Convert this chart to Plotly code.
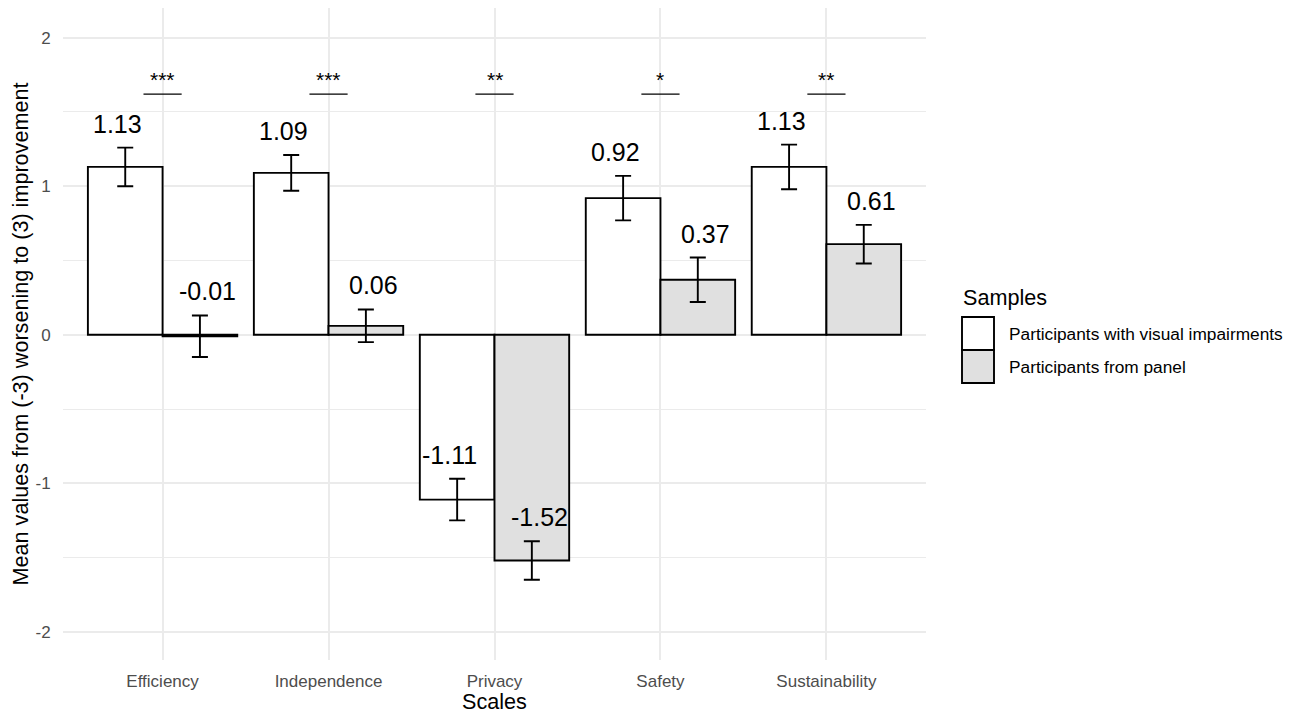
import plotly.graph_objects as go

# ---------------- data ----------------
categories = ["Efficiency", "Independence", "Privacy", "Safety", "Sustainability"]
series_names = ["Participants with visual impairments", "Participants from panel"]
vi_means = [1.13, 1.09, -1.11, 0.92, 1.13]
vi_se = [0.13, 0.12, 0.14, 0.15, 0.15]
panel_means = [-0.01, 0.06, -1.52, 0.37, 0.61]
panel_se = [0.14, 0.11, 0.13, 0.15, 0.13]
significance = ["***", "***", "**", "*", "**"]
y_tick_vals = [-2, -1, 0, 1, 2]
y_tick_text = ["-2", "-1", "0", "1", "2"]
y_minor_vals = [-1.5, -0.5, 0.5, 1.5]

# ---------------- layout constants ----------------
OFF = 8  # page body margin
W, H = 1291, 706
L, R, T, B = 55, 373, 0, 54
PW = W - L - R
PH = H - T - B
FONT = "Liberation Sans, Arial, Helvetica, sans-serif"
FILLS = ["white", "#e0e0e0"]
BAR_W = 0.45
LABEL_OFF = 0.27
SIG_Y = 1.62
SIG_HALF = 0.115


def px_x(p):
    return (p - OFF - L) / PW


def px_y(p):
    return (H - B - (p - OFF)) / PH


idx = list(range(len(categories)))
fig = go.Figure()

for k, (means, ses) in enumerate([(vi_means, vi_se), (panel_means, panel_se)]):
    shift = -BAR_W / 2 if k == 0 else BAR_W / 2
    fig.add_trace(go.Bar(
        x=[i + shift for i in idx], y=means, width=BAR_W,
        name=series_names[k], showlegend=False,
        marker=dict(color=FILLS[k], line=dict(color="black", width=1.9)),
        error_y=dict(type="data", array=ses, color="black", thickness=1.9, width=8),
        hoverinfo="skip",
    ))
    lab_shift = -LABEL_OFF if k == 0 else LABEL_OFF
    for i, m, s in zip(idx, means, ses):
        fig.add_annotation(x=i + lab_shift, y=m + s, yshift=24, text=f"{m:.2f}",
                           showarrow=False, yanchor="middle", xanchor="center",
                           font=dict(size=25, color="black", family=FONT))

# significance markers
for i, sig in zip(idx, significance):
    fig.add_shape(type="line", x0=i - SIG_HALF, x1=i + SIG_HALF, y0=SIG_Y, y1=SIG_Y,
                  line=dict(color="black", width=1.4))
    fig.add_annotation(x=i, y=SIG_Y, yshift=1, text=sig, showarrow=False,
                       yanchor="bottom", font=dict(size=21, color="black", family=FONT))

# manual legend
fig.add_annotation(xref="paper", yref="paper", x=px_x(961), y=px_y(297), text="Samples",
                   showarrow=False, xanchor="left", yanchor="middle",
                   font=dict(size=21.6, color="black", family=FONT))
box_tops = [317, 350]
for k in range(2):
    fig.add_shape(type="rect", xref="paper", yref="paper",
                  x0=px_x(962), x1=px_x(994), y0=px_y(box_tops[k]), y1=px_y(box_tops[k] + 33),
                  fillcolor=FILLS[k], line=dict(color="black", width=1.9))
    fig.add_annotation(xref="paper", yref="paper", x=px_x(1007), y=px_y(box_tops[k] + 17),
                       text=series_names[k], showarrow=False, xanchor="left", yanchor="middle",
                       font=dict(size=17.3, color="black", family=FONT))

fig.update_layout(
    width=W, height=H,
    margin=dict(l=L, r=R, t=T, b=B, autoexpand=False),
    plot_bgcolor="white", paper_bgcolor="white",
    barmode="overlay",
    font=dict(family=FONT, color="black"),
    showlegend=False,
    xaxis=dict(
        range=[-0.6, len(categories) - 0.4],
        tickmode="array", tickvals=idx, ticktext=categories,
        showgrid=True, gridcolor="#ebebeb", gridwidth=1.5,
        zeroline=False, showline=False,
        ticks="outside", ticklen=6, tickcolor="rgba(0,0,0,0)",
        tickfont=dict(size=17, color="#4d4d4d", family=FONT),
        title=dict(text="Scales", font=dict(size=21.6, color="black", family=FONT), standoff=3),
        automargin=False,
    ),
    yaxis=dict(
        range=[-2.19, 2.20],
        tickmode="array", tickvals=y_tick_vals, ticktext=y_tick_text,
        showgrid=True, gridcolor="#ebebeb", gridwidth=1.5,
        minor=dict(tickmode="array", tickvals=y_minor_vals, showgrid=True,
                   gridcolor="#ebebeb", gridwidth=0.8, ticks=""),
        zeroline=False, showline=False,
        ticks="outside", ticklen=8, tickcolor="rgba(0,0,0,0)",
        tickfont=dict(size=17, color="#4d4d4d", family=FONT),
        title=dict(text="Mean values from (-3) worsening to (3) improvement",
                   font=dict(size=21.6, color="black", family=FONT), standoff=1),
        automargin=False,
    ),
)

fig.write_html("out.html")
